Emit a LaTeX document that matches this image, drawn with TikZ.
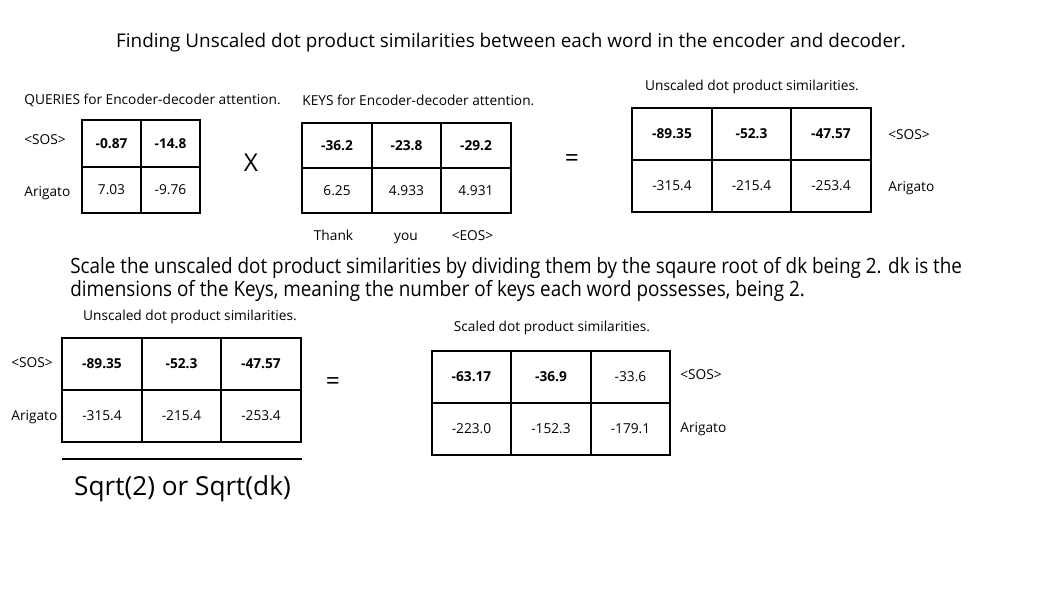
\documentclass[tikz,border=0pt]{standalone}
\usepackage{fontspec}
\setmainfont{Open Sans}
\newfontfamily\narrowfont[FakeStretch=0.895]{Open Sans}
\usetikzlibrary{positioning}

\begin{document}
\begin{tikzpicture}[
    x=0.02cm, y=-0.02cm,
    node distance=0pt,
    cell/.style={rectangle, draw, line width=1.1pt, outer sep=0pt, inner sep=0pt, align=center, font=\fontsize{7.8}{9}\selectfont},
    bcell/.style={cell, font=\fontsize{7.8}{9}\selectfont\bfseries},
    qcell/.style={minimum width=1.18cm, minimum height=0.93cm},
    kcell/.style={minimum width=1.39cm, minimum height=0.9cm},
    scell/.style={minimum width=1.59cm, minimum height=1.04cm},
    caption/.style={inner sep=0pt, font=\fontsize{7.8}{9}\selectfont},
    word/.style={anchor=west, inner sep=0pt, font=\fontsize{7.8}{9}\selectfont},
    op/.style={font=\fontsize{14}{16}\selectfont}
]
    \useasboundingbox (0,0) rectangle (1050,591);

    % Title
    \node[font=\fontsize{10.75}{12}\selectfont] (title) at (511,43) {Finding Unscaled dot product similarities between each word in the encoder and decoder.};

    % Queries
    \node[caption, anchor=west] (qcap) at (24,100) {QUERIES for Encoder-decoder attention.};
    \node[bcell, qcell] (q11) at (111.5,143.5) {-0.87};
    \node[bcell, qcell, right=of q11] (q12) {-14.8};
    \node[cell, qcell, below=of q11] (q21) {7.03};
    \node[cell, qcell, right=of q21] (q22) {-9.76};
    \node[word] (qsos) at (24,140) {<SOS>};
    \node[word] (qari) at (24,193) {Arigato};

    \node[op] (times) at (251,163) {X};

    % Keys
    \node[caption, anchor=west] (kcap) at (302,100) {KEYS for Encoder-decoder attention.};
    \node[bcell, kcell] (k11) at (337,145.5) {-36.2};
    \node[bcell, kcell, right=of k11] (k12) {-23.8};
    \node[bcell, kcell, right=of k12] (k13) {-29.2};
    \node[cell, kcell, below=of k11] (k21) {6.25};
    \node[cell, kcell, right=of k21] (k22) {4.933};
    \node[cell, kcell, right=of k22] (k23) {4.931};
    \node[caption, anchor=base] (thank) at (333.5,240) {Thank};
    \node[caption, anchor=base] (you) at (406,240) {you};
    \node[caption, anchor=base] (eos) at (472.5,240) {<EOS>};

    \node[op] (eq1) at (572,161) {=};

    % Unscaled (top)
    \node[caption] (ucap) at (752,87) {Unscaled dot product similarities.};
    \node[bcell, scell] (u11) at (672,134) {-89.35};
    \node[bcell, scell, right=of u11] (u12) {-52.3};
    \node[bcell, scell, right=of u12] (u13) {-47.57};
    \node[cell, scell, below=of u11] (u21) {-315.4};
    \node[cell, scell, right=of u21] (u22) {-215.4};
    \node[cell, scell, right=of u22] (u23) {-253.4};
    \node[word] (usos) at (888,135) {<SOS>};
    \node[word] (uari) at (888,188) {Arigato};

    % Explanation
    \node[anchor=west, inner sep=0pt, align=left, font=\narrowfont\fontsize{12}{12.6}\selectfont] (expl) at (70,279.5)
        {Scale the unscaled dot product similarities by dividing them by the sqaure root of dk being 2. dk is the\\
         dimensions of the Keys, meaning the number of keys each word possesses, being 2.};

    % Unscaled (bottom)
    \node[caption] (bcap) at (190,317) {Unscaled dot product similarities.};
    \node[bcell, scell] (b11) at (102,364) {-89.35};
    \node[bcell, scell, right=of b11] (b12) {-52.3};
    \node[bcell, scell, right=of b12] (b13) {-47.57};
    \node[cell, scell, below=of b11] (b21) {-315.4};
    \node[cell, scell, right=of b21] (b22) {-215.4};
    \node[cell, scell, right=of b22] (b23) {-253.4};
    \node[word] (bsos) at (11,363) {<SOS>};
    \node[word] (bari) at (11,417) {Arigato};
    \draw[line width=1.1pt] (62,459) -- (302,459);
    \node[font=\fontsize{14.9}{17}\selectfont] (sqrt) at (182.5,489) {Sqrt(2) or Sqrt(dk)};

    \node[op] (eq2) at (333,384) {=};

    % Scaled
    \node[caption] (scap) at (552,328) {Scaled dot product similarities.};
    \node[bcell, scell] (s11) at (471.5,377) {-63.17};
    \node[bcell, scell, right=of s11] (s12) {-36.9};
    \node[cell, scell, right=of s12] (s13) {-33.6};
    \node[cell, scell, below=of s11] (s21) {-223.0};
    \node[cell, scell, right=of s21] (s22) {-152.3};
    \node[cell, scell, right=of s22] (s23) {-179.1};
    \node[word] (ssos) at (680,375) {<SOS>};
    \node[word] (sari) at (680,429) {Arigato};
\end{tikzpicture}
\end{document}
